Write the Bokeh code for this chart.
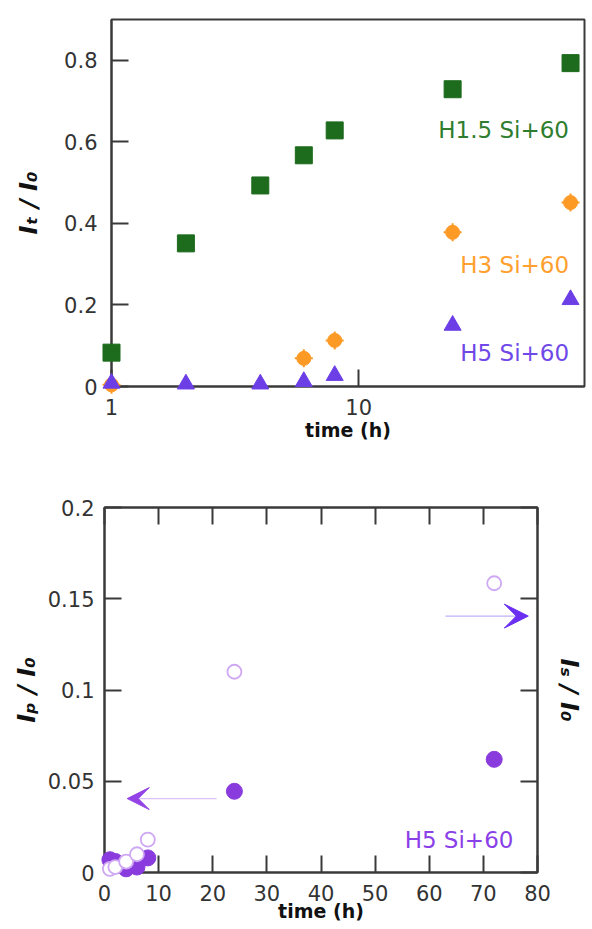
from bokeh.plotting import figure
from bokeh.models import Range1d, FixedTicker, LinearAxis, Label, Arrow, VeeHead
from bokeh.embed import file_html
from bokeh.resources import INLINE

# ---------------- Panel (a) data ----------------
time_a = [1, 2, 4, 6, 8, 24, 72]
h15_vals = [0.083, 0.351, 0.493, 0.567, 0.628, 0.729, 0.793]
time_h3 = [1, 6, 8, 24, 72]
h3_vals = [0.004, 0.069, 0.113, 0.378, 0.451]
h5_vals = [0.008, 0.006, 0.006, 0.012, 0.027, 0.150, 0.213]
a_xticks = [1, 10]
a_xtick_labels = ["1", "10"]
a_yticks = [0, 0.2, 0.4, 0.6, 0.8]
a_ytick_labels = ["0", "0.2", "0.4", "0.6", "0.8"]

# ---------------- Panel (b) data ----------------
time_b = [1, 2, 4, 6, 8, 24, 72]
ip_vals = [0.007, 0.006, 0.002, 0.003, 0.008, 0.0445, 0.062]
is_vals = [0.002, 0.003, 0.006, 0.010, 0.018, 0.110, 0.1585]
b_xticks = [0, 10, 20, 30, 40, 50, 60, 70, 80]
b_xtick_labels = ["0", "10", "20", "30", "40", "50", "60", "70", "80"]
b_yticks = [0, 0.05, 0.1, 0.15, 0.2]
b_ytick_labels = ["0", "0.05", "0.1", "0.15", "0.2"]

FONT = "DejaVu Sans"
AX = "#3a3a3a"
GREEN = "#1d6b1d"
ORANGE = "#fd9a26"
PURPLE_T = "#6c3fe6"
PURPLE_F = "#8a3bdd"
PURPLE_O = "#cfa8f4"


def style_axis(ax, tick_len=17):
    ax.axis_line_color = AX
    ax.axis_line_width = 2
    ax.major_tick_line_color = AX
    ax.major_tick_line_width = 2
    ax.major_tick_in = tick_len
    ax.major_tick_out = 0
    ax.minor_tick_line_color = None
    ax.major_label_text_font = FONT
    ax.major_label_text_font_size = "21px"
    ax.major_label_text_color = "#333333"
    ax.axis_label_text_font = FONT
    ax.axis_label_text_color = "#111111"


# ================= Panel (a) =================
p1 = figure(width=592, height=450, x_axis_type="log",
            x_range=Range1d(1, 82), y_range=Range1d(0, 0.9),
            output_backend="svg", toolbar_location=None,
            min_border_left=111, min_border_right=8,
            min_border_top=19, min_border_bottom=64)
p1.grid.visible = False
p1.outline_line_color = AX
p1.outline_line_width = 2
p1.background_fill_color = "white"
p1.border_fill_color = "white"

xa = p1.xaxis[0]
xa.ticker = FixedTicker(ticks=a_xticks, minor_ticks=[])
xa.major_label_overrides = {t: l for t, l in zip(a_xticks, a_xtick_labels)}
style_axis(xa)
xa.major_label_standoff = 12
xa.axis_label = "time (h)"
xa.axis_label_text_font_size = "19px"
xa.axis_label_text_font_style = "bold"
xa.axis_label_standoff = 1

ya = p1.yaxis[0]
ya.ticker = FixedTicker(ticks=a_yticks, minor_ticks=[])
ya.major_label_overrides = {t: l for t, l in zip(a_yticks, a_ytick_labels)}
style_axis(ya)
ya.major_label_standoff = 14
ya.axis_label = "Iₜ / I₀"
ya.axis_label_text_font_size = "24px"
ya.axis_label_text_font_style = "bold italic"
ya.axis_label_standoff = 18

p1.scatter(time_a, h15_vals, marker="square", size=17,
           fill_color=GREEN, line_color=GREEN, level="overlay")
p1.scatter(time_h3, h3_vals, marker="circle", size=14,
           fill_color=ORANGE, line_color=ORANGE, level="overlay")
p1.scatter(time_h3, h3_vals, marker="cross", size=18,
           line_color=ORANGE, line_width=2, level="overlay")
p1.scatter(time_a, h5_vals, marker="triangle", size=17,
           fill_color=PURPLE_T, line_color=PURPLE_T, level="overlay")

p1.add_layout(Label(x=38.6, y=0.628, text="H1.5 Si+60", text_font=FONT,
                    text_font_size="23px", text_color="#2f7d2f",
                    text_align="center", text_baseline="middle"))
p1.add_layout(Label(x=42.8, y=0.297, text="H3 Si+60", text_font=FONT,
                    text_font_size="23px", text_color="#ffa030",
                    text_align="center", text_baseline="middle"))
p1.add_layout(Label(x=42.8, y=0.081, text="H5 Si+60", text_font=FONT,
                    text_font_size="23px", text_color="#7048e8",
                    text_align="center", text_baseline="middle"))
p1.add_layout(Label(x=0.49, y=0.891, text="(a)", text_font=FONT,
                    text_font_size="20px", text_font_style="bold",
                    text_color="#222222",
                    text_align="center", text_baseline="middle"))

# ================= Panel (b) =================
p2 = figure(width=592, height=478,
            x_range=Range1d(0, 80), y_range=Range1d(0, 0.2),
            output_backend="svg", toolbar_location=None,
            min_border_left=104, min_border_right=55,
            min_border_top=57, min_border_bottom=56)
p2.grid.visible = False
p2.outline_line_color = AX
p2.outline_line_width = 2
p2.background_fill_color = "white"
p2.border_fill_color = "white"

xb = p2.xaxis[0]
xb.ticker = FixedTicker(ticks=b_xticks, minor_ticks=[])
xb.major_label_overrides = {t: l for t, l in zip(b_xticks, b_xtick_labels)}
style_axis(xb)
xb.major_label_standoff = 12
xb.axis_label = "time (h)"
xb.axis_label_text_font_size = "19px"
xb.axis_label_text_font_style = "bold"
xb.axis_label_standoff = -4

yb = p2.yaxis[0]
yb.ticker = FixedTicker(ticks=b_yticks, minor_ticks=[])
yb.major_label_overrides = {t: l for t, l in zip(b_yticks, b_ytick_labels)}
style_axis(yb)
yb.major_label_standoff = 10
yb.axis_label = "Iₚ / I₀"
yb.axis_label_text_font_size = "24px"
yb.axis_label_text_font_style = "bold italic"
yb.axis_label_standoff = 4

top_b = LinearAxis(ticker=FixedTicker(ticks=b_xticks, minor_ticks=[]),
                   major_label_overrides={t: "" for t in b_xticks})
style_axis(top_b)
top_b.major_label_standoff = 0
p2.add_layout(top_b, "above")

right_b = LinearAxis(ticker=FixedTicker(ticks=b_yticks, minor_ticks=[]),
                     major_label_overrides={t: "" for t in b_yticks})
style_axis(right_b)
right_b.major_label_standoff = 0
right_b.axis_label = "Iₛ / I₀"
right_b.axis_label_text_font_size = "24px"
right_b.axis_label_text_font_style = "bold italic"
right_b.axis_label_standoff = 17
p2.add_layout(right_b, "right")

p2.scatter(time_b, ip_vals, marker="circle", size=16,
           fill_color=PURPLE_F, line_color=PURPLE_F, level="overlay")
p2.scatter(time_b, is_vals, marker="circle", size=14,
           fill_color="white", line_color=PURPLE_O, line_width=1.8,
           level="overlay")

# arrows: thin shaft ending at the notch, solid vee head
p2.segment(x0=[20.7], y0=[0.0405], x1=[6.3], y1=[0.0405],
           line_color="#dcc2f8", line_width=1.2)
p2.add_layout(Arrow(end=VeeHead(size=22, fill_color="#9444e6", line_color="#9444e6"),
                    x_start=20.7, y_start=0.0405, x_end=4.2, y_end=0.0405,
                    line_color=None))
p2.segment(x0=[63.0], y0=[0.1405], x1=[76.0], y1=[0.1405],
           line_color="#c2b0f8", line_width=1.2)
p2.add_layout(Arrow(end=VeeHead(size=24, fill_color="#6a2ff0", line_color="#6a2ff0"),
                    x_start=63, y_start=0.1405, x_end=78.3, y_end=0.1405,
                    line_color=None))

p2.add_layout(Label(x=65.5, y=0.0176, text="H5 Si+60", text_font=FONT,
                    text_font_size="23px", text_color="#8a40e8",
                    text_align="center", text_baseline="middle"))
p2.add_layout(Label(x=-14.2, y=0.2005, text="(b)", text_font=FONT,
                    text_font_size="20px", text_font_style="bold",
                    text_color="#222222",
                    text_align="center", text_baseline="middle"))

open("out.html", "w").write(file_html([p1, p2], INLINE))
